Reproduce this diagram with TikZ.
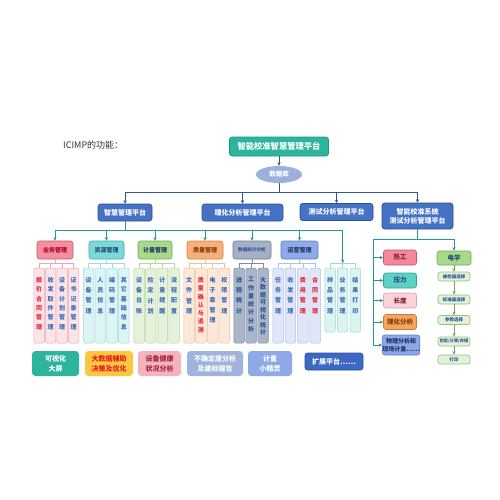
\documentclass[tikz,border=0pt]{standalone}
\usepackage{fontspec}
\setmainfont{Noto Sans CJK SC}
\usetikzlibrary{arrows.meta,shapes.geometric}
\definecolor{topc}{HTML}{2DB49C}\definecolor{topd}{HTML}{1E9A84}
\definecolor{dbc}{HTML}{9DB0DD}
\definecolor{l2c}{HTML}{4472C4}\definecolor{l2d}{HTML}{2F528F}
\definecolor{lnb}{HTML}{2F5597}\definecolor{lnt}{HTML}{239A8A}\definecolor{lng}{HTML}{6AAE4A}
% level 3
\definecolor{ywA}{HTML}{F3909E}\definecolor{ywB}{HTML}{C9546A}\definecolor{ywT}{HTML}{B8002A}
\definecolor{zyA}{HTML}{7DD8D9}\definecolor{zyB}{HTML}{3BAFB0}\definecolor{zyT}{HTML}{1F4E79}
\definecolor{jlA}{HTML}{A8D98A}\definecolor{jlB}{HTML}{6AAE4A}\definecolor{jlT}{HTML}{1F3864}
\definecolor{zlA}{HTML}{F6B07A}\definecolor{zlB}{HTML}{D9803E}\definecolor{zlT}{HTML}{833C0B}
\definecolor{sjA}{HTML}{A6B0C4}\definecolor{sjB}{HTML}{6F7C96}\definecolor{sjT}{HTML}{2F5597}
\definecolor{yyA}{HTML}{8FAAE8}\definecolor{yyB}{HTML}{5B7FCE}\definecolor{yyT}{HTML}{1F3864}
% level 4
\definecolor{ywF}{HTML}{FBE4E8}\definecolor{ywD}{HTML}{EAA6B2}
\definecolor{zyF}{HTML}{DDF3F4}\definecolor{zyD}{HTML}{9FDADB}
\definecolor{jlF}{HTML}{E6F1DC}\definecolor{jlD}{HTML}{B6D8A0}
\definecolor{zlF}{HTML}{FCE8DA}\definecolor{zlD}{HTML}{F2BE98}
\definecolor{sjF}{HTML}{ABB5C8}\definecolor{sjD}{HTML}{7F8AA3}
\definecolor{yyF}{HTML}{DEE6F7}\definecolor{yyD}{HTML}{AFC0E8}
\definecolor{ypF}{HTML}{DDF3F0}\definecolor{ypD}{HTML}{9FD8D0}
\definecolor{vblue}{HTML}{3E6DB5}\definecolor{vred}{HTML}{E8283C}
% bottom row
\definecolor{dsj}{HTML}{FFC640}\definecolor{dsjT}{HTML}{E32020}
\definecolor{sbj}{HTML}{F4B3BE}\definecolor{sbjT}{HTML}{A0283C}
\definecolor{bqd}{HTML}{9FB3DD}\definecolor{xjl}{HTML}{8DAAE6}
\definecolor{kz}{HTML}{3D68C4}
% right
\definecolor{rgA}{HTML}{F0899A}\definecolor{rgT}{HTML}{8B1A2B}
\definecolor{ylA}{HTML}{5ECFC3}\definecolor{ylB}{HTML}{2FA79A}
\definecolor{cdA}{HTML}{F9D2DA}\definecolor{cdB}{HTML}{E0A0AE}\definecolor{cdT}{HTML}{7A2030}
\definecolor{lhA}{HTML}{F5A462}\definecolor{lhB}{HTML}{D07A30}
\definecolor{wlA}{HTML}{8CA8E8}
\definecolor{subA}{HTML}{E4F1DA}\definecolor{subB}{HTML}{8DC46E}
\newcommand\vcol[8]{%
  \node[tall, fill=#3F, draw=#3D, minimum height=#8pt] (#1) at (#2,#7) {};
  \node[vtext, text=#5, font=\fontsize{6}{#6}\selectfont\bfseries] (#1t) at (#2,277) {#4};
}
\begin{document}
\begin{tikzpicture}[x=1pt,y=-1pt,
  box/.style={draw, rounded corners=2.5pt, inner sep=0pt, align=center, line width=0.6pt},
  ltwo/.style={box, fill=l2c, draw=l2d, text=white, minimum height=17pt, font=\fontsize{7}{9}\selectfont\bfseries},
  lthree/.style={box, minimum height=18pt, font=\fontsize{6}{7}\selectfont\bfseries},
  tall/.style={draw, rounded corners=1.5pt, inner sep=0pt, minimum width=10.5pt, line width=0.5pt},
  vtext/.style={anchor=north, inner sep=0pt, align=center},
  brow/.style={box, draw=none, rounded corners=3.5pt, minimum height=25pt, font=\fontsize{7}{10}\selectfont\bfseries},
  rbox/.style={box, minimum width=33pt, minimum height=15pt, font=\fontsize{6.5}{7.5}\selectfont\bfseries},
  ebox/.style={box, fill=subA, draw=subB, minimum width=32pt, minimum height=9pt, text=lnb, font=\fontsize{4.5}{5}\selectfont\bfseries},
  arr/.style={-{Stealth[length=3.5pt,width=3.2pt]}},
  bl/.style={draw=lnb, line width=0.9pt},
  tl/.style={draw=lnt, line width=0.9pt},
  gl/.style={draw=lng, line width=0.8pt},
  sub/.style={line width=0.6pt}]
\fill[white] (0,0) rectangle (500,500);
\useasboundingbox (0,0) rectangle (500,500);

\node[anchor=west, inner sep=0pt, text=black!80, font=\fontsize{9}{10}\selectfont] (title) at (63,145) {ICIMP的功能：};

% top
\node[box, fill=topc, draw=topd, text=white, minimum width=99pt, minimum height=19pt, font=\fontsize{8.3}{9}\selectfont\bfseries] (top) at (279,146.5) {智能校准智慧管理平台};
\node[ellipse, fill=dbc, draw=none, minimum width=46pt, minimum height=17pt, inner sep=0pt, text=white, font=\fontsize{6.5}{7}\selectfont\bfseries] (db) at (279,174.5) {数据库};

% level 2
\node[ltwo, minimum width=54pt] (zhihui) at (125,212.5) {智慧管理平台};
\node[ltwo, minimum width=81pt] (lihua) at (242.5,212.5) {理化分析管理平台};
\node[ltwo, minimum width=73pt] (ceshi) at (336.5,212) {测试分析管理平台};
\node[ltwo, minimum width=71pt, minimum height=26pt] (zhineng) at (417.5,216) {智能校准系统\\测试分析管理平台};

\coordinate (bar) at (0,192);
\draw[bl,arr] (top.south) -- (db.north);
\draw[bl] (db.south) -- (db.south |- bar);
\draw[bl] (zhihui.north |- bar) -- (zhineng.north |- bar);
\foreach \n in {zhihui,lihua,ceshi,zhineng} \draw[bl,arr] (\n.north |- bar) -- (\n.north);

% level 3
\node[lthree, fill=ywA, draw=ywB, text=ywT, minimum width=36pt] (yewu) at (55,250) {业务管理};
\node[lthree, fill=zyA, draw=zyB, text=zyT, minimum width=35pt] (ziyuan) at (106.5,250) {资源管理};
\node[lthree, fill=jlA, draw=jlB, text=jlT, minimum width=34pt] (jiliang) at (155,250) {计量管理};
\node[lthree, fill=zlA, draw=zlB, text=zlT, minimum width=36pt] (zhiliang) at (205,250) {质量管理};
\node[lthree, fill=sjA, draw=sjB, text=sjT, minimum width=38pt, font=\fontsize{4.6}{5}\selectfont\bfseries] (shuju) at (252,250) {数据统计分析};
\node[lthree, fill=yyA, draw=yyB, text=yyT, minimum width=37pt] (yunying) at (299.5,250) {运营管理};

% level 4
\vcol{yw1}{39}{yw}{报\\价\\合\\同\\管\\理}{vred}{9.4}{305.5}{75}
\vcol{yw2}{50.5}{yw}{收\\发\\取\\件\\管\\理}{vblue}{9.4}{305.5}{75}
\vcol{yw3}{62}{yw}{设\\备\\计\\划\\管\\理}{vblue}{9.4}{305.5}{75}
\vcol{yw4}{73.5}{yw}{证\\书\\记\\录\\管\\理}{vblue}{9.4}{305.5}{75}
\vcol{zy1}{88.5}{zy}{设\\备\\管\\理}{vblue}{10.3}{305.5}{75}
\vcol{zy2}{100.3}{zy}{人\\员\\信\\息}{vblue}{10.3}{305.5}{75}
\vcol{zy3}{112.1}{zy}{编\\码\\管\\理}{vblue}{10.3}{305.5}{75}
\vcol{zy4}{123.9}{zy}{其\\它\\基\\础\\信\\息}{vblue}{9.4}{305.5}{75}
\vcol{jl1}{139}{jl}{设\\备\\台\\账}{vblue}{10.3}{305.5}{75}
\vcol{jl2}{150.7}{jl}{检\\定\\计\\划}{vblue}{10.3}{305.5}{75}
\vcol{jl3}{162.4}{jl}{计\\量\\提\\醒}{vblue}{10.3}{305.5}{75}
\vcol{jl4}{174.1}{jl}{流\\程\\配\\置}{vblue}{10.3}{305.5}{75}
\vcol{zl1}{189}{zl}{文\\件\\管\\理}{vblue}{10.3}{305.5}{75}
\vcol{zl2}{200.8}{zl}{质\\量\\确\\认\\与\\追\\溯}{vred}{8.3}{305.5}{75}
\vcol{zl3}{212.6}{zl}{电\\子\\章\\管\\理}{vblue}{10}{305.5}{75}
\vcol{zl4}{224.4}{zl}{权\\限\\管\\理}{vblue}{10.3}{305.5}{75}
\vcol{sj1}{239}{sj}{进\\程\\统\\计}{sjT}{10.3}{305.5}{75}
\vcol{sj2}{251}{sj}{工\\作\\量\\统\\计\\分\\析}{sjT}{8.3}{305.5}{75}
\vcol{sj3}{263}{sj}{大\\数\\据\\可\\视\\化\\统\\计}{sjT}{7.5}{305.5}{75}
\vcol{yy1}{278}{yy}{任\\务\\管\\理}{vblue}{10.3}{305.5}{75}
\vcol{yy2}{290.4}{yy}{收\\发\\管\\理}{vblue}{10.3}{305.5}{75}
\vcol{yy3}{302.8}{yy}{费\\用\\管\\理}{vred}{10.3}{305.5}{75}
\vcol{yy4}{315.2}{yy}{合\\同\\管\\理}{vred}{10.3}{305.5}{75}
\vcol{yp1}{330}{yp}{样\\品\\管\\理}{vblue}{10.3}{300}{64}
\vcol{yp2}{342.7}{yp}{业\\务\\管\\理}{vblue}{10.3}{300}{64}
\vcol{yp3}{355.4}{yp}{结\\果\\打\\印}{vblue}{10.3}{300}{64}

% main teal bus
\coordinate (bus) at (0,230);
\coordinate (tb) at (0,263);
\draw[tl] (zhihui.south) -- (zhihui.south |- bus);
\draw[tl] (yewu.north |- bus) -- (yp2.north |- bus);
\foreach \n in {yewu,ziyuan,jiliang,zhiliang,shuju,yunying} \draw[tl,arr] (\n.north |- bus) -- (\n.north);
\draw[tl,arr] (yp2.north |- bus) -- (yp2.north |- tb);

% sub trees
\foreach \p/\a/\b/\c/\k in {yewu/yw1/yw4/ywD/yw,ziyuan/zy1/zy4/zyD/zy,jiliang/jl1/jl4/jlD/jl,zhiliang/zl1/zl4/zlD/zl,yunying/yy1/yy4/yyD/yy} {
  \draw[sub, draw=\c] (\p.south) -- (\p.south |- tb);
  \draw[sub, draw=\c] (\a.north |- tb) -- (\b.north |- tb);
  \foreach \i in {1,2,3,4} \draw[sub, draw=\c] (\k\i.north |- tb) -- (\k\i.north);
}
\draw[sub, draw=sjD] (shuju.south) -- (shuju.south |- tb);
\draw[sub, draw=sjD] (sj1.north |- tb) -- (sj3.north |- tb);
\foreach \i in {1,2,3} \draw[sub, draw=sjD] (sj\i.north |- tb) -- (sj\i.north);
\draw[sub, draw=ypD] (yp1.north |- tb) -- (yp3.north |- tb);
\foreach \i in {1,2,3} \draw[sub, draw=ypD] (yp\i.north |- tb) -- (yp\i.north);

% bottom row
\node[brow, fill=topc, text=white, minimum width=47pt] (ksh) at (55.5,363.5) {可视化\\大屏};
\node[brow, fill=dsj, text=dsjT, minimum width=48pt] (dsjn) at (109,363.5) {大数据辅助\\决策及优化};
\node[brow, fill=sbj, text=sbjT, minimum width=43pt] (sbjk) at (159.5,363.5) {设备健康\\状况分析};
\node[brow, fill=bqd, text=white, minimum width=56pt] (bqdn) at (215,363.5) {不确定度分析\\及建标报告};
\node[brow, fill=xjl, text=white, minimum width=44pt] (xjln) at (270,363.5) {计量\\小精灵};
\node[box, fill=kz, draw=l2d, text=white, minimum width=58pt, minimum height=17pt, font=\fontsize{7}{8}\selectfont\bfseries] (kzpt) at (334,361.5) {扩展平台……};

% right section
\node[rbox, fill=rgA, draw=ywB, text=rgT] (rg) at (400,257.5) {热工};
\node[rbox, fill=ylA, draw=ylB, text=zyT] (yl) at (400,280.5) {压力};
\node[rbox, fill=cdA, draw=cdB, text=cdT] (cd) at (400,300.5) {长度};
\node[rbox, fill=lhA, draw=lhB, text=zlT] (lhfx) at (400,322) {理化分析};
\node[rbox, fill=wlA, draw=yyB, text=yyT, minimum width=35pt, minimum height=20pt, font=\fontsize{6}{7.5}\selectfont\bfseries] (wl) at (401,345) {物理分析和\\现场计量……};
\node[rbox, fill=jlA, draw=jlB, text=zyT, minimum width=34pt, minimum height=14pt] (dx) at (454,258) {电学};
\node[ebox] (e1) at (454,276.5) {被检器选择};
\node[ebox] (e2) at (454,299.5) {标准器选择};
\node[ebox] (e3) at (454,320) {参数选择};
\node[ebox, font=\fontsize{4.2}{5}\selectfont\bfseries] (e4) at (454,341.5) {检定/计算/存储};
\node[ebox] (e5) at (454,359.5) {打印};

\coordinate (rbL) at (373,239);
\draw[tl] (zhineng.south) -- (zhineng.south |- rbL);
\draw[tl] (rbL) -- (rbL -| dx.north);
\draw[tl,arr] (rbL -| dx.north) -- (dx.north);
\draw[tl] (rbL) -- (rbL |- wl.west);
\foreach \n in {rg,yl,cd,lhfx,wl} \draw[tl,arr] (rbL |- \n.west) -- (\n.west);
\draw[gl,arr] (dx.south) -- (e1.north);
\draw[gl,arr] (e1.south) -- (e2.north);
\draw[gl,arr] (e2.south) -- (e3.north);
\draw[gl,arr] (e3.south) -- (e4.north);
\draw[gl,arr] (e4.south) -- (e5.north);
\end{tikzpicture}
\end{document}
